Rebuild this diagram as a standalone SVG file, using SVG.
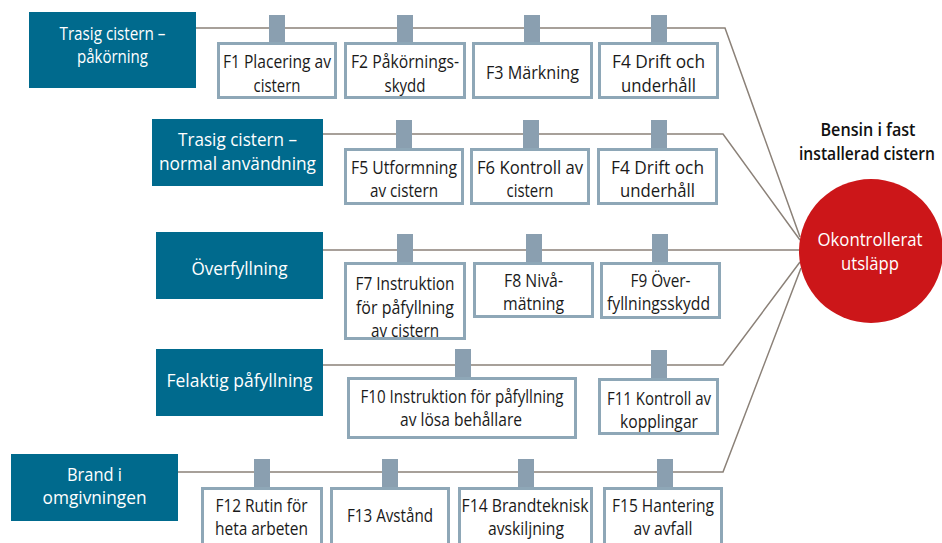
<svg xmlns="http://www.w3.org/2000/svg" width="942" height="543" viewBox="0 0 942 543">
  <style>
    .cause { fill: #006a8d; }
    .tab { fill: #8a9fb0; }
    .box { fill: #ffffff; stroke: #8ea7b7; stroke-width: 3; }
    .conn { fill: none; stroke: #8b8178; stroke-width: 1.5; }
    text { font-family: "Open Sans", "Noto Sans", "Liberation Sans", sans-serif; font-size: 18.5px; text-anchor: middle; }
    .w { fill: #ffffff; }
    .d { fill: #1a1a1a; }
    .title { font-weight: 600; fill: #111111; }
  </style>

  <!-- connectors: each cause line runs right and then bends into the event circle -->
  <g id="connectors">
    <polyline class="conn" points="196,28 725,28 800,237"/>
    <polyline class="conn" points="323,134 723,134 800,240"/>
    <polyline class="conn" points="323,250 800,250"/>
    <polyline class="conn" points="323,365 723,365 800,262"/>
    <polyline class="conn" points="178,472 723,472 801,268"/>
  </g>

  <!-- top event -->
  <g id="event">
    <text class="title" x="868" y="136" textLength="95" lengthAdjust="spacingAndGlyphs">Bensin i fast</text>
    <text class="title" x="867" y="160" textLength="136" lengthAdjust="spacingAndGlyphs">installerad cistern</text>
    <circle cx="871" cy="251" r="72" fill="#cc1619"/>
    <text class="w" x="870" y="246" textLength="105" lengthAdjust="spacingAndGlyphs">Okontrollerat</text>
    <text class="w" x="870" y="270" textLength="58" lengthAdjust="spacingAndGlyphs">utsläpp</text>
  </g>

  <!-- cause 1 -->
  <g id="cause1">
    <rect class="cause" x="29" y="12" width="167" height="76"/>
    <text class="w" x="112.5" y="40" textLength="106" lengthAdjust="spacingAndGlyphs">Trasig cistern –</text>
    <text class="w" x="112.5" y="63" textLength="71" lengthAdjust="spacingAndGlyphs">påkörning</text>
  </g>
  <g id="f1">
    <rect class="tab" x="269" y="15" width="16" height="27"/>
    <rect class="box" x="218.5" y="43.5" width="117" height="54"/>
    <text class="d" x="277" y="68" textLength="108" lengthAdjust="spacingAndGlyphs">F1 Placering av</text>
    <text class="d" x="277" y="92" textLength="47" lengthAdjust="spacingAndGlyphs">cistern</text>
  </g>
  <g id="f2">
    <rect class="tab" x="397" y="15" width="16" height="27"/>
    <rect class="box" x="345.5" y="43.5" width="119" height="54"/>
    <text class="d" x="405" y="68" textLength="108" lengthAdjust="spacingAndGlyphs">F2 Påkörnings-</text>
    <text class="d" x="405" y="92" textLength="41" lengthAdjust="spacingAndGlyphs">skydd</text>
  </g>
  <g id="f3">
    <rect class="tab" x="524" y="15" width="16" height="27"/>
    <rect class="box" x="473.5" y="43.5" width="118" height="54"/>
    <text class="d" x="532.5" y="79" textLength="93" lengthAdjust="spacingAndGlyphs">F3 Märkning</text>
  </g>
  <g id="f4a">
    <rect class="tab" x="651" y="15" width="16" height="27"/>
    <rect class="box" x="599.5" y="43.5" width="118" height="54"/>
    <text class="d" x="658.5" y="68" textLength="93" lengthAdjust="spacingAndGlyphs">F4 Drift och</text>
    <text class="d" x="658.5" y="92" textLength="75" lengthAdjust="spacingAndGlyphs">underhåll</text>
  </g>

  <!-- cause 2 -->
  <g id="cause2">
    <rect class="cause" x="152" y="119" width="171" height="67"/>
    <text class="w" x="237.5" y="146" textLength="119" lengthAdjust="spacingAndGlyphs">Trasig cistern –</text>
    <text class="w" x="237.5" y="170" textLength="157" lengthAdjust="spacingAndGlyphs">normal användning</text>
  </g>
  <g id="f5">
    <rect class="tab" x="396" y="120" width="16" height="28"/>
    <rect class="box" x="345.5" y="149.5" width="117" height="54"/>
    <text class="d" x="404" y="174" textLength="106" lengthAdjust="spacingAndGlyphs">F5 Utformning</text>
    <text class="d" x="404" y="197" textLength="68" lengthAdjust="spacingAndGlyphs">av cistern</text>
  </g>
  <g id="f6">
    <rect class="tab" x="523" y="120" width="16" height="28"/>
    <rect class="box" x="471.5" y="149.5" width="117" height="54"/>
    <text class="d" x="530" y="174" textLength="106" lengthAdjust="spacingAndGlyphs">F6 Kontroll av</text>
    <text class="d" x="530" y="197" textLength="47" lengthAdjust="spacingAndGlyphs">cistern</text>
  </g>
  <g id="f4b">
    <rect class="tab" x="651" y="120" width="16" height="28"/>
    <rect class="box" x="598.5" y="149.5" width="118" height="54"/>
    <text class="d" x="657.5" y="174" textLength="93" lengthAdjust="spacingAndGlyphs">F4 Drift och</text>
    <text class="d" x="657.5" y="197" textLength="75" lengthAdjust="spacingAndGlyphs">underhåll</text>
  </g>

  <!-- cause 3 -->
  <g id="cause3">
    <rect class="cause" x="156" y="232" width="167" height="67"/>
    <text class="w" x="239.5" y="275" textLength="96" lengthAdjust="spacingAndGlyphs">Överfyllning</text>
  </g>
  <g id="f7">
    <rect class="tab" x="397" y="234" width="16" height="28"/>
    <rect class="box" x="345.5" y="263.5" width="119" height="75"/>
    <text class="d" x="405" y="290" textLength="99" lengthAdjust="spacingAndGlyphs">F7 Instruktion</text>
    <text class="d" x="405" y="314" textLength="98" lengthAdjust="spacingAndGlyphs">för påfyllning</text>
    <text class="d" x="405" y="337" textLength="68" lengthAdjust="spacingAndGlyphs">av cistern</text>
  </g>
  <g id="f8">
    <rect class="tab" x="526" y="234" width="16" height="28"/>
    <rect class="box" x="474.5" y="263.5" width="118" height="53"/>
    <text class="d" x="533.5" y="287" textLength="59" lengthAdjust="spacingAndGlyphs">F8 Nivå-</text>
    <text class="d" x="533.5" y="310" textLength="61" lengthAdjust="spacingAndGlyphs">mätning</text>
  </g>
  <g id="f9">
    <rect class="tab" x="652" y="234" width="16" height="28"/>
    <rect class="box" x="601.5" y="263.5" width="118" height="54"/>
    <text class="d" x="660.5" y="287" textLength="60" lengthAdjust="spacingAndGlyphs">F9 Över-</text>
    <text class="d" x="658.5" y="310" textLength="103" lengthAdjust="spacingAndGlyphs">fyllningsskydd</text>
  </g>

  <!-- cause 4 -->
  <g id="cause4">
    <rect class="cause" x="156" y="349" width="167" height="67"/>
    <text class="w" x="239.5" y="387" textLength="146" lengthAdjust="spacingAndGlyphs">Felaktig påfyllning</text>
  </g>
  <g id="f10">
    <rect class="tab" x="455" y="349" width="16" height="28"/>
    <rect class="box" x="348.5" y="378.5" width="227" height="59"/>
    <text class="d" x="462" y="403" textLength="203" lengthAdjust="spacingAndGlyphs">F10 Instruktion för påfyllning</text>
    <text class="d" x="461" y="426" textLength="122" lengthAdjust="spacingAndGlyphs">av lösa behållare</text>
  </g>
  <g id="f11">
    <rect class="tab" x="651" y="350" width="16" height="28"/>
    <rect class="box" x="599.5" y="379.5" width="118" height="54"/>
    <text class="d" x="659" y="405" textLength="104" lengthAdjust="spacingAndGlyphs">F11 Kontroll av</text>
    <text class="d" x="659" y="428" textLength="78" lengthAdjust="spacingAndGlyphs">kopplingar</text>
  </g>

  <!-- cause 5 -->
  <g id="cause5">
    <rect class="cause" x="11" y="454" width="167" height="67"/>
    <text class="w" x="94.5" y="481" textLength="55" lengthAdjust="spacingAndGlyphs">Brand i</text>
    <text class="w" x="94.5" y="504" textLength="104" lengthAdjust="spacingAndGlyphs">omgivningen</text>
  </g>
  <g id="f12">
    <rect class="tab" x="254" y="459" width="16" height="28"/>
    <rect class="box" x="202.5" y="488.5" width="119" height="60"/>
    <text class="d" x="261.5" y="512" textLength="92" lengthAdjust="spacingAndGlyphs">F12 Rutin för</text>
    <text class="d" x="261.5" y="535" textLength="93" lengthAdjust="spacingAndGlyphs">heta arbeten</text>
  </g>
  <g id="f13">
    <rect class="tab" x="382" y="459" width="16" height="28"/>
    <rect class="box" x="331.5" y="488.5" width="117" height="60"/>
    <text class="d" x="390" y="522" textLength="86" lengthAdjust="spacingAndGlyphs">F13 Avstånd</text>
  </g>
  <g id="f14">
    <rect class="tab" x="518" y="459" width="16" height="28"/>
    <rect class="box" x="459.5" y="488.5" width="132" height="60"/>
    <text class="d" x="525" y="512" textLength="127" lengthAdjust="spacingAndGlyphs">F14 Brandteknisk</text>
    <text class="d" x="526" y="535" textLength="76" lengthAdjust="spacingAndGlyphs">avskiljning</text>
  </g>
  <g id="f15">
    <rect class="tab" x="657" y="459" width="16" height="28"/>
    <rect class="box" x="604.5" y="488.5" width="117" height="60"/>
    <text class="d" x="663" y="512" textLength="102" lengthAdjust="spacingAndGlyphs">F15 Hantering</text>
    <text class="d" x="663" y="535" textLength="59" lengthAdjust="spacingAndGlyphs">av avfall</text>
  </g>
</svg>
